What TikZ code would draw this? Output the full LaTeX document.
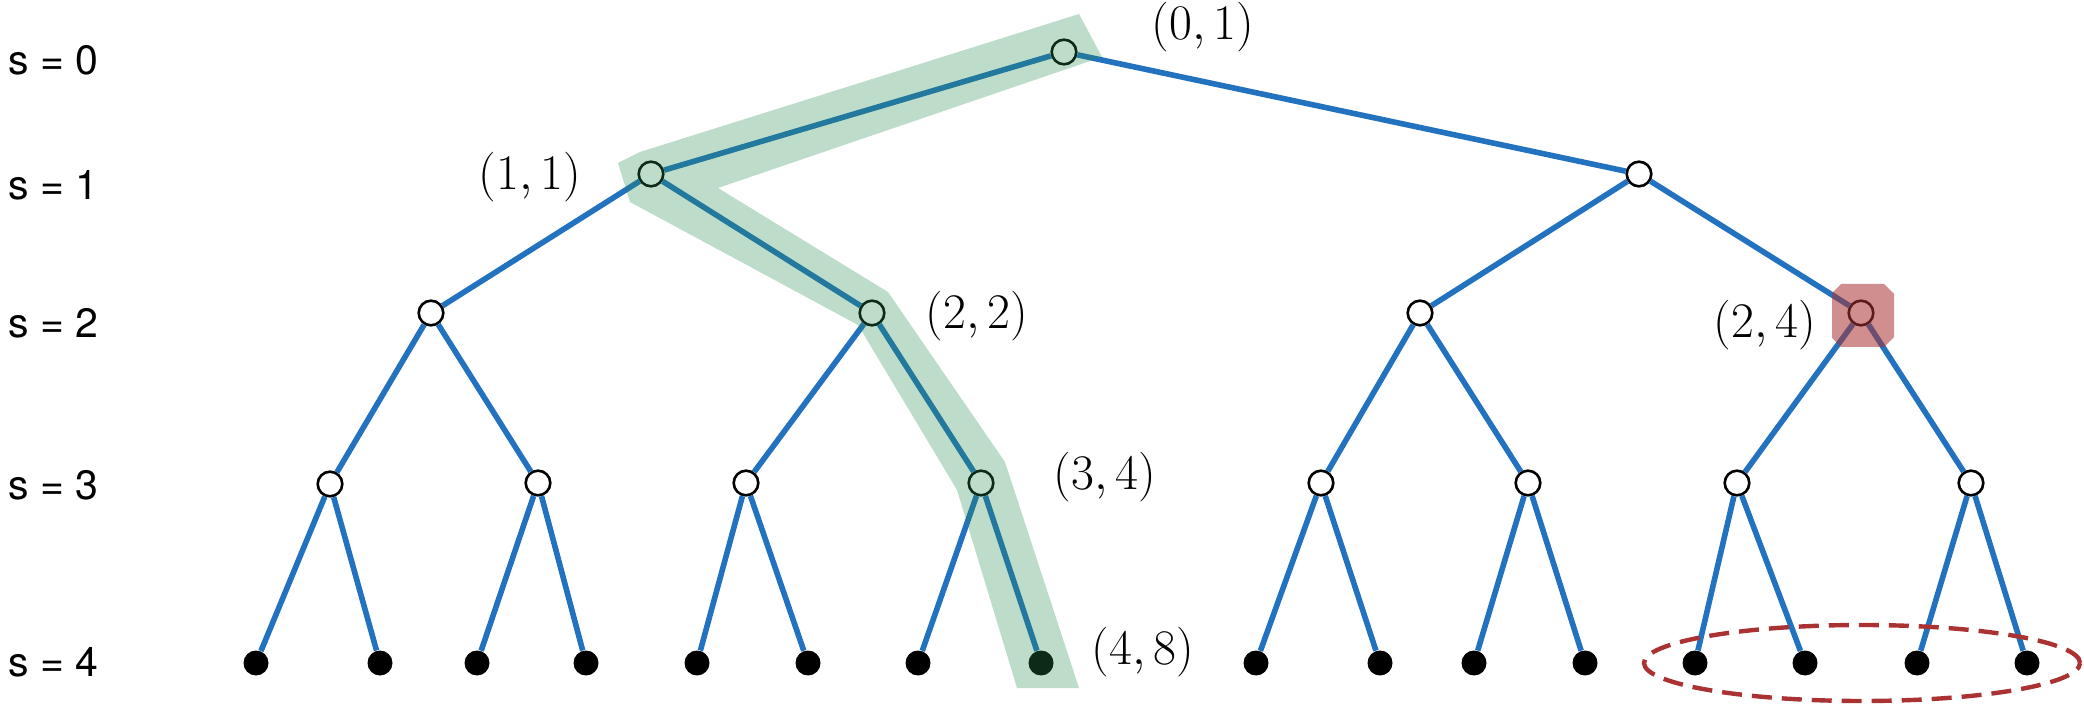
\documentclass[tikz,border=0pt]{standalone}
\usepackage{fontspec}
\newfontfamily\levelfont{TeX Gyre Heros}
\usetikzlibrary{positioning}
\definecolor{treeblue}{HTML}{2272BF}
\definecolor{pathgreen}{HTML}{288C50}
\definecolor{hlred}{HTML}{AA3232}

\begin{document}
\begin{tikzpicture}[x=0.5pt, y=-0.5pt,
  inner/.style={circle, draw=black, line width=1.3pt, fill=white, minimum size=12.3pt, inner sep=0pt},
  leaf/.style={circle, fill=black, minimum size=12.5pt, inner sep=0pt},
  edge/.style={treeblue, line width=2.8pt},
  level/.style={font=\levelfont\fontsize{20.5}{24}\selectfont, anchor=west, inner sep=0pt},
  coord/.style={font=\fontsize{23}{28}\selectfont, inner sep=0pt}]

\useasboundingbox (0,0) rectangle (2084,705);

% Level labels
\node[level] (s0) at (8,60) {s = 0};
\node[level] (s1) at (8,185) {s = 1};
\node[level] (s2) at (8,323) {s = 2};
\node[level] (s3) at (8,485) {s = 3};
\node[level] (s4) at (8,662) {s = 4};

% Inner nodes
\node[inner] (r) at (1064,52) {};
\node[inner] (n11) at (651,174) {};
\node[inner] (n12) at (1639,174) {};
\node[inner] (n21) at (431,313) {};
\node[inner] (n22) at (872,313) {};
\node[inner] (n23) at (1420,313) {};
\node[inner] (n24) at (1861,313) {};
\node[inner] (n31) at (330,484) {};
\node[inner] (n32) at (538,483) {};
\node[inner] (n33) at (746,483) {};
\node[inner] (n34) at (981,483) {};
\node[inner] (n35) at (1321,483) {};
\node[inner] (n36) at (1528,483) {};
\node[inner] (n37) at (1737,483) {};
\node[inner] (n38) at (1971,483) {};

% Leaves
\node[leaf] (n41) at (256,663) {};
\node[leaf] (n42) at (380,663) {};
\node[leaf] (n43) at (477,663) {};
\node[leaf] (n44) at (586,663) {};
\node[leaf] (n45) at (697,663) {};
\node[leaf] (n46) at (808,663) {};
\node[leaf] (n47) at (918,663) {};
\node[leaf] (n48) at (1041,663) {};
\node[leaf] (n49) at (1256,663) {};
\node[leaf] (n410) at (1380,663) {};
\node[leaf] (n411) at (1474,663) {};
\node[leaf] (n412) at (1585,663) {};
\node[leaf] (n413) at (1695,663) {};
\node[leaf] (n414) at (1805,663) {};
\node[leaf] (n415) at (1917,663) {};
\node[leaf] (n416) at (2027,663) {};

% Edges
\draw[edge] (r) -- (n11);
\draw[edge] (r) -- (n12);
\draw[edge] (n11) -- (n21);
\draw[edge] (n11) -- (n22);
\draw[edge] (n12) -- (n23);
\draw[edge] (n12) -- (n24);
\draw[edge] (n21) -- (n31);
\draw[edge] (n21) -- (n32);
\draw[edge] (n22) -- (n33);
\draw[edge] (n22) -- (n34);
\draw[edge] (n23) -- (n35);
\draw[edge] (n23) -- (n36);
\draw[edge] (n24) -- (n37);
\draw[edge] (n24) -- (n38);
\draw[edge] (n31) -- (n41);
\draw[edge] (n31) -- (n42);
\draw[edge] (n32) -- (n43);
\draw[edge] (n32) -- (n44);
\draw[edge] (n33) -- (n45);
\draw[edge] (n33) -- (n46);
\draw[edge] (n34) -- (n47);
\draw[edge] (n34) -- (n48);
\draw[edge] (n35) -- (n49);
\draw[edge] (n35) -- (n410);
\draw[edge] (n36) -- (n411);
\draw[edge] (n36) -- (n412);
\draw[edge] (n37) -- (n413);
\draw[edge] (n37) -- (n414);
\draw[edge] (n38) -- (n415);
\draw[edge] (n38) -- (n416);

% Highlighted path
\fill[pathgreen, opacity=0.3] (1079,14) -- (1102,57) -- (718,188) -- (888,292) -- (1005,462) -- (1079,688) -- (1017,688) -- (957,490) -- (858,325) -- (630,202) -- (618,163) -- (640,152) -- cycle;

% Marked node
\fill[hlred, opacity=0.55] (1841,284) -- (1884,284) -- (1894,294) -- (1894,337) -- (1884,347) -- (1841,347) -- (1832,338) -- (1832,293) -- cycle;

% Subtree leaves
\draw[hlred, line width=2.2pt, dash pattern=on 10pt off 5pt] (1862,663) ellipse (109pt and 19pt);

% Coordinates
\node[coord] (l01) at (1203,27) {$(0,1)$};
\node[coord] (l11) at (530,177) {$(1,1)$};
\node[coord] (l22) at (977,316) {$(2,2)$};
\node[coord] (l24) at (1765,325) {$(2,4)$};
\node[coord] (l34) at (1105,477) {$(3,4)$};
\node[coord] (l48) at (1143,652) {$(4,8)$};

\end{tikzpicture}
\end{document}
